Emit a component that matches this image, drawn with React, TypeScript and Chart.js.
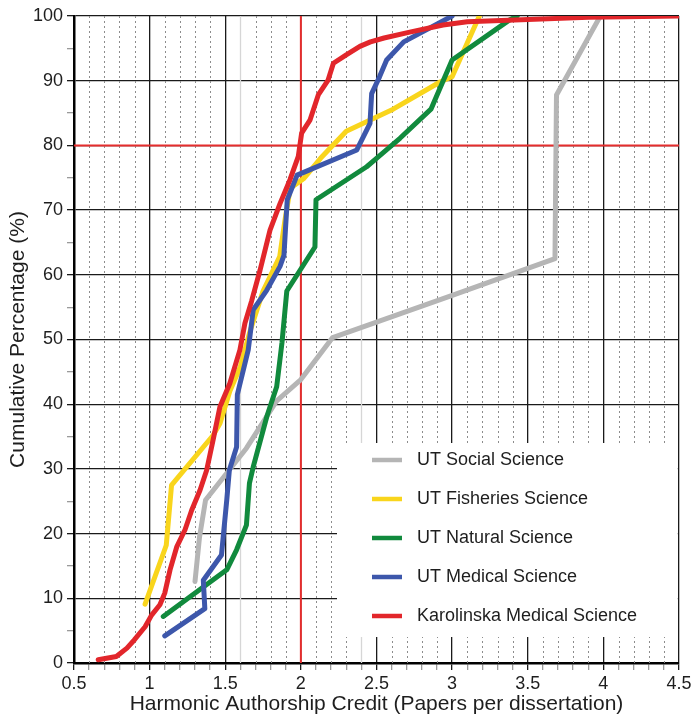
import React, { useEffect, useRef } from "react";
import { Chart, registerables } from "chart.js";

Chart.register(...registerables);

// ---------- data ----------
const seriesLabels = [
  "UT Social Science",
  "UT Fisheries Science",
  "UT Natural Science",
  "UT Medical Science",
  "Karolinska Medical Science",
];
const seriesColors = ["#b5b5b5", "#f9d51c", "#118a3d", "#3d57ab", "#e2262b"];

const socialX = [1.30, 1.33, 1.37, 1.64, 1.84, 2.0, 2.21, 3.01, 3.68, 3.69, 3.98];
const socialY = [12.6, 19.5, 25.2, 33.2, 40.5, 43.8, 50.3, 56.9, 62.5, 87.8, 100];

const fisheriesX = [0.97, 1.11, 1.145, 1.42, 1.465, 1.53, 1.60, 1.66, 1.71, 1.75, 1.86, 1.895, 1.93, 2.02, 2.13, 2.30, 2.61, 2.92, 3.0, 3.18];
const fisheriesY = [9.1, 18.2, 27.5, 35.2, 37.0, 42.0, 45.8, 51.0, 54.6, 57.5, 62.8, 68.5, 73.4, 74.9, 78.0, 82.2, 85.6, 89.8, 90.6, 100];

const naturalX = [1.09, 1.51, 1.575, 1.64, 1.66, 1.685, 1.775, 1.84, 1.875, 1.907, 2.093, 2.10, 2.435, 2.5, 2.655, 2.86, 3.0, 3.38, 3.43];
const naturalY = [7.2, 14.4, 17.5, 21.3, 27.8, 30.3, 38.1, 42.7, 49.5, 57.5, 64.3, 71.6, 76.7, 78.0, 81.1, 85.6, 93.2, 99.4, 100];

const medicalX = [1.10, 1.365, 1.355, 1.475, 1.51, 1.527, 1.575, 1.58, 1.652, 1.685, 1.774, 1.862, 1.888, 1.898, 1.91, 1.975, 2.37, 2.457, 2.468, 2.52, 2.567, 2.68, 3.0];
const medicalY = [4.2, 8.4, 12.8, 16.7, 25.2, 29.8, 33.4, 41.5, 48.4, 54.6, 57.6, 61.3, 63.0, 67.0, 71.6, 75.4, 79.3, 83.4, 88.0, 90.6, 93.2, 96.0, 100];

const karolinskaX = [0.66, 0.78, 0.85, 0.90, 0.97, 1.013, 1.068, 1.10, 1.135, 1.18, 1.234, 1.278, 1.333, 1.377, 1.42, 1.465, 1.53, 1.597, 1.63, 1.675, 1.73, 1.796, 1.862, 1.928, 1.983, 2.005, 2.06, 2.115, 2.18, 2.215, 2.30, 2.39, 2.46, 2.55, 2.72, 2.94, 3.1, 3.9, 4.5];
const karolinskaY = [0.5, 1.0, 2.3, 3.6, 5.6, 7.4, 9.0, 10.8, 14.4, 18.0, 20.6, 23.6, 26.7, 29.8, 34.5, 39.6, 43.2, 48.4, 52.5, 56.0, 60.7, 66.9, 71.0, 74.7, 78.3, 81.9, 83.9, 87.8, 90.1, 92.7, 94.0, 95.3, 96.0, 96.6, 97.5, 98.6, 99.1, 99.8, 100];

const seriesX = [socialX, fisheriesX, naturalX, medicalX, karolinskaX];
const seriesY = [socialY, fisheriesY, naturalY, medicalY, karolinskaY];
const drawOrder = [4, 3, 2, 1, 0]; // red on top

const xTickLabels = ["0.5", "1", "1.5", "2", "2.5", "3", "3.5", "4", "4.5"];
const yTickLabels = ["0", "10", "20", "30", "40", "50", "60", "70", "80", "90", "100"];
const xMin = 0.5;
const xMax = 4.5;
const refX = 2;
const refY = 80;
const lightMinorX = [1.6, 2.4];

const xTitle = "Harmonic Authorship Credit (Papers per dissertation)";
const yTitle = "Cumulative Percentage (%)";

const FONT = "'Liberation Sans', Arial, Helvetica, sans-serif";

const isMajorX = (v: number) => Math.abs(v * 2 - Math.round(v * 2)) < 1e-6;
const isMajorY = (v: number) => Math.abs(v / 10 - Math.round(v / 10)) < 1e-6;

const overlayPlugin = {
  id: "overlay",
  beforeDatasetsDraw(chart: any) {
    const { ctx, chartArea: ca, scales } = chart;
    const x = scales.x;
    const y = scales.y;
    ctx.save();
    // minor dotted vertical grid lines every 0.1
    for (let i = Math.round(xMin * 10) + 1; i < Math.round(xMax * 10); i++) {
      if (i % 5 === 0) continue;
      const v = i / 10;
      const px = Math.round(x.getPixelForValue(v)) + 0.5;
      const light = lightMinorX.some((m) => Math.abs(m - v) < 1e-6);
      ctx.strokeStyle = light ? "#d6d6d6" : "#8c8c8c";
      ctx.lineWidth = light ? 1.3 : 1;
      ctx.setLineDash(light ? [] : [2, 3]);
      ctx.beginPath();
      ctx.moveTo(px, ca.top);
      ctx.lineTo(px, ca.bottom);
      ctx.stroke();
    }
    ctx.setLineDash([]);
    // red reference lines
    ctx.strokeStyle = "#e52d2d";
    ctx.lineWidth = 2;
    const rx = x.getPixelForValue(refX);
    ctx.beginPath();
    ctx.moveTo(rx, ca.top);
    ctx.lineTo(rx, ca.bottom);
    ctx.stroke();
    const ry = y.getPixelForValue(refY);
    ctx.beginPath();
    ctx.moveTo(ca.left, ry);
    ctx.lineTo(ca.right, ry);
    ctx.stroke();

    // legend box
    const bl = ca.left + 263;
    const bt = ca.top + 427;
    const br = ca.right - 1.2;
    const bb = ca.top + 621;
    ctx.fillStyle = "#ffffff";
    ctx.fillRect(bl, bt, br - bl, bb - bt);
    ctx.font = `18px ${FONT}`;
    ctx.textBaseline = "middle";
    ctx.textAlign = "left";
    seriesLabels.forEach((label, i) => {
      const ry2 = bt + 17 + i * 39;
      ctx.strokeStyle = seriesColors[i];
      ctx.lineWidth = 4.5;
      ctx.beginPath();
      ctx.moveTo(bl + 35, ry2);
      ctx.lineTo(bl + 65, ry2);
      ctx.stroke();
      ctx.fillStyle = "#1e1e1e";
      ctx.fillText(label, bl + 80, ry2);
    });
    ctx.restore();
  },
};

export default function App() {
  const ref = useRef<HTMLCanvasElement | null>(null);
  useEffect(() => {
    document.body.style.margin = "0";
    if (!ref.current) return;
    const datasets = seriesLabels.map((label, i) => ({
      label,
      data: seriesX[i].map((xv, j) => ({ x: xv, y: seriesY[i][j] })),
      borderColor: seriesColors[i],
      backgroundColor: seriesColors[i],
      borderWidth: 5,
      pointRadius: 0,
      tension: 0,
      fill: false,
      borderCapStyle: "round" as const,
      borderJoinStyle: "round" as const,
      order: drawOrder[i],
    }));
    const chart = new Chart(ref.current, {
      type: "line",
      data: { datasets },
      plugins: [overlayPlugin],
      options: {
        animation: false,
        responsive: true,
        maintainAspectRatio: false,
        layout: { padding: { top: 16, left: 0, right: 0, bottom: 0 } },
        plugins: { legend: { display: false }, tooltip: { enabled: false } },
        scales: {
          x: {
            type: "linear",
            min: xMin,
            max: xMax,
            afterFit: (s: any) => {
              s.height = 55;
              s.paddingRight = 12;
              s.paddingLeft = 0;
            },
            ticks: {
              stepSize: 0.1,
              autoSkip: false,
              maxRotation: 0,
              minRotation: 0,
              padding: 3,
              color: "#1e1e1e",
              font: { family: FONT, size: 18 },
              callback: (v: any) => {
                const n = Number(v);
                if (!isMajorX(n)) return "";
                return xTickLabels[Math.round((n - xMin) * 2)] ?? "";
              },
            },
            grid: {
              color: (c: any) => (c.tick && isMajorX(c.tick.value) ? "#1a1a1a" : "rgba(0,0,0,0)"),
              lineWidth: 1.3,
              tickLength: 7,
              tickColor: (c: any) => (c.tick && isMajorX(c.tick.value) ? "#1a1a1a" : "#9a9a9a"),
            },
            border: { color: "#000", width: 2.5 },
            title: {
              display: true,
              text: xTitle,
              color: "#1e1e1e",
              font: { family: FONT, size: 21 },
              padding: 1.5,
            },
          },
          y: {
            type: "linear",
            min: 0,
            max: 100,
            afterFit: (s: any) => {
              s.width = 74;
              s.paddingTop = 0;
              s.paddingBottom = 0;
            },
            ticks: {
              stepSize: 5,
              autoSkip: false,
              padding: 4,
              color: "#1e1e1e",
              font: { family: FONT, size: 18 },
              callback: (v: any) => {
                const n = Number(v);
                if (!isMajorY(n)) return "";
                return yTickLabels[Math.round(n / 10)] ?? "";
              },
            },
            grid: {
              color: (c: any) => (c.tick && isMajorY(c.tick.value) ? "#1a1a1a" : "rgba(0,0,0,0)"),
              lineWidth: 1.3,
              tickLength: 7,
              tickColor: (c: any) => (c.tick && isMajorY(c.tick.value) ? "#1a1a1a" : "#9a9a9a"),
            },
            border: { color: "#000", width: 2.5 },
            title: {
              display: true,
              text: yTitle,
              color: "#1e1e1e",
              font: { family: FONT, size: 21 },
              padding: 6,
            },
          },
        },
      },
    } as any);
    return () => chart.destroy();
  }, []);
  return (
    <div style={{ position: "relative", width: 691, height: 718 }}>
      <canvas ref={ref} />
    </div>
  );
}
